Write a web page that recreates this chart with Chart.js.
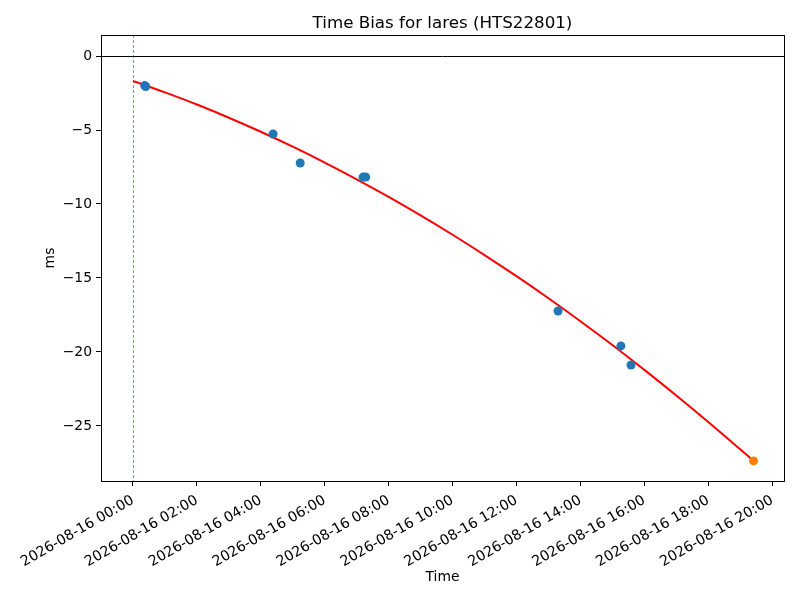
<!DOCTYPE html>
<html>
<head>
<meta charset="utf-8">
<script src="https://cdn.jsdelivr.net/npm/chart.js@4"></script>
<style>
  html, body { margin: 0; padding: 0; background: #fff; }
  #wrap { width: 800px; height: 600px; }
</style>
</head>
<body>
<div id="wrap"><canvas id="c" width="800" height="600"></canvas></div>
<script>
// ---- data ----
const titleText = "Time Bias for lares (HTS22801)";
const datePrefix = "2026-08-16";
// measured time bias points (blue)
const measTimes = ["00:22", "00:24", "04:23", "05:14", "07:12", "07:17", "13:18", "15:16", "15:35"];
const measBias  = [-2.00, -2.06, -5.27, -7.23, -8.18, -8.18, -17.23, -19.59, -20.88];
// predicted point (orange)
const predTimes = ["19:25"];
const predBias  = [-27.36];
// fitted curve (red)
const fitTimes = ["00:00","01:00","02:00","03:00","04:00","05:00","06:00","07:00","08:00","09:00",
                  "10:00","11:00","12:00","13:00","14:00","15:00","16:00","17:00","18:00","19:00","19:25"];
const fitBias  = [-1.69,-2.46,-3.28,-4.17,-5.12,-6.13,-7.20,-8.33,-9.52,-10.77,
                  -12.08,-13.45,-14.88,-16.37,-17.92,-19.53,-21.21,-22.94,-24.73,-26.58,-27.36];
const xTickHours = [0, 2, 4, 6, 8, 10, 12, 14, 16, 18, 20];
const yTickValues = [-25, -20, -15, -10, -5, 0];
const xRange = [-1.0, 20.37];
const yRange = [-28.72, 1.42];

function toHours(s) { const [h, m] = s.split(":").map(Number); return h + m / 60; }
function pts(times, vals) { return times.map((t, i) => ({ x: toHours(t), y: vals[i] })); }
function pad2(n) { return String(n).padStart(2, "0"); }

const FONT = "'DejaVu Sans', sans-serif";

const framePlugin = {
  id: 'frame',
  beforeDatasetsDraw(chart) {
    const { ctx, chartArea: a, scales } = chart;
    ctx.save();
    // vertical dashed line at 00:00
    const x0 = Math.round(scales.x.getPixelForValue(0)) + 0.5;
    ctx.strokeStyle = '#4f7fb0';
    ctx.lineWidth = 0.8;
    ctx.setLineDash([3, 2]);
    ctx.beginPath(); ctx.moveTo(x0, a.top); ctx.lineTo(x0, a.bottom); ctx.stroke();
    // horizontal line at 0
    ctx.setLineDash([]);
    const y0 = Math.round(scales.y.getPixelForValue(0)) + 0.5;
    ctx.strokeStyle = '#000';
    ctx.lineWidth = 1;
    ctx.beginPath(); ctx.moveTo(a.left, y0); ctx.lineTo(a.right, y0); ctx.stroke();
    ctx.restore();
  },
  afterDraw(chart) {
    const { ctx, chartArea: a } = chart;
    ctx.save();
    ctx.strokeStyle = '#000';
    ctx.lineWidth = 1;
    ctx.strokeRect(Math.round(a.left) + 0.5, Math.round(a.top) + 0.5,
                   Math.round(a.right - a.left), Math.round(a.bottom - a.top));
    ctx.fillStyle = '#000';
    ctx.font = "16.7px " + FONT;
    ctx.textAlign = 'center';
    ctx.textBaseline = 'alphabetic';
    ctx.fillText(titleText, (a.left + a.right) / 2, 28);
    ctx.restore();
  }
};

new Chart(document.getElementById('c'), {
  type: 'scatter',
  data: {
    datasets: [
      { label: 'measured', data: pts(measTimes, measBias), backgroundColor: '#1f77b4', borderColor: '#1f77b4',
        pointRadius: 4.5, pointHoverRadius: 4.5, borderWidth: 0, order: 1 },
      { label: 'predicted', data: pts(predTimes, predBias), backgroundColor: '#ff7f0e', borderColor: '#ff7f0e',
        pointRadius: 4.5, pointHoverRadius: 4.5, borderWidth: 0, order: 0 },
      { label: 'fit', type: 'line', data: pts(fitTimes, fitBias), borderColor: 'red', borderWidth: 2,
        pointRadius: 0, fill: false, tension: 0.4, cubicInterpolationMode: 'monotone', order: 2 }
    ]
  },
  options: {
    responsive: false,
    animation: false,
    devicePixelRatio: 1,
    layout: { padding: { left: 38, right: 16, top: 35, bottom: 10 } },
    plugins: { legend: { display: false }, title: { display: false }, tooltip: { enabled: false } },
    scales: {
      x: {
        type: 'linear', min: xRange[0], max: xRange[1],
        afterBuildTicks(s) { s.ticks = xTickHours.map(v => ({ value: v })); },
        afterFit(s) { s.height = 109; },
        grid: { drawOnChartArea: false, drawTicks: true, tickLength: 5, tickColor: '#000' },
        border: { display: true, color: '#000', width: 1 },
        ticks: {
          color: '#000', font: { family: FONT, size: 14.2 }, padding: 6,
          minRotation: 30, maxRotation: 30, autoSkip: false,
          callback: (v) => datePrefix + " " + pad2(v) + ":00"
        },
        title: { display: true, text: 'Time', color: '#000', font: { family: FONT, size: 13.9 } }
      },
      y: {
        type: 'linear', min: yRange[0], max: yRange[1],
        afterBuildTicks(s) { s.ticks = yTickValues.map(v => ({ value: v })); },
        afterFit(s) { s.width = 63; },
        grid: { drawOnChartArea: false, drawTicks: true, tickLength: 5, tickColor: '#000' },
        border: { display: true, color: '#000', width: 1 },
        ticks: {
          color: '#000', font: { family: FONT, size: 13.9 }, padding: 4,
          callback: (v) => (v < 0 ? "\u2212" + Math.abs(v) : String(v))
        },
        title: { display: true, text: 'ms', color: '#000', font: { family: FONT, size: 13.9 } }
      }
    }
  },
  plugins: [framePlugin]
});
</script>
</body>
</html>
